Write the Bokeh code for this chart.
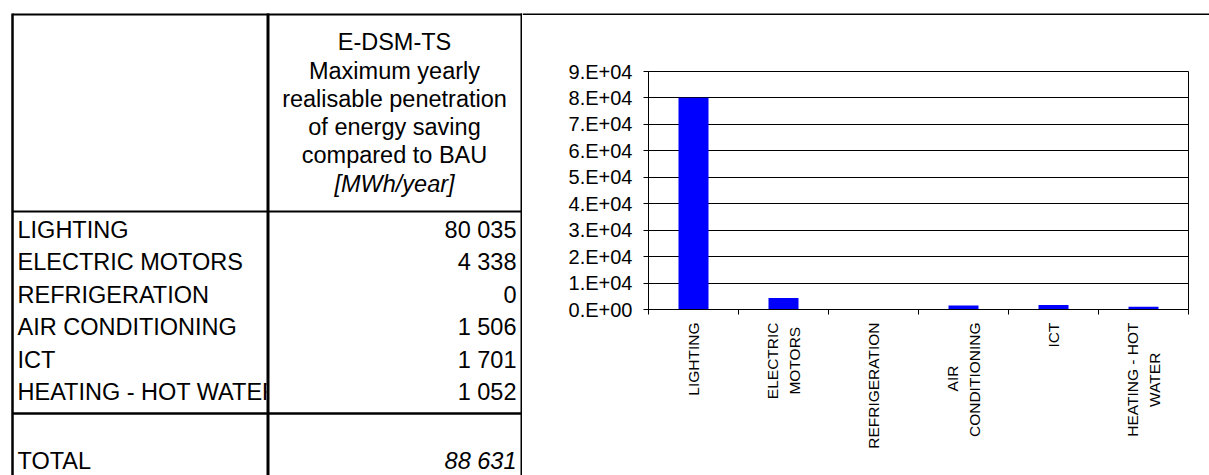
import numpy as np
from bokeh.plotting import figure
from bokeh.layouts import row, column
from bokeh.models import Range1d, FixedTicker, CustomJSTickFormatter
from bokeh.core.properties import value
from bokeh.embed import file_html
from bokeh.resources import INLINE

# ---------------- data ----------------
categories = ["LIGHTING", "ELECTRIC MOTORS", "REFRIGERATION",
              "AIR CONDITIONING", "ICT", "HEATING - HOT WATER"]
axis_labels = ["LIGHTING", "ELECTRIC\nMOTORS", "REFRIGERATION",
               "AIR\nCONDITIONING", "ICT", "HEATING - HOT\nWATER"]
savings = [80035, 4338, 0, 1506, 1701, 1052]
total_label = "TOTAL"
total_value = 88631
header_lines = ["E-DSM-TS", "Maximum yearly", "realisable penetration",
                "of energy saving", "compared to BAU"]
unit_line = "[MWh/year]"
y_ticks = [0, 10000, 20000, 30000, 40000, 50000, 60000, 70000, 80000, 90000]

FONT = value("Liberation Sans")
TFS = "23.5px"
XFS = "15.5px"
W_TAB, W_CH, H_ALL, H_STRIP = 522, 687, 475, 15


def fmt(v):
    return f"{v:,}".replace(",", " ")


def blank(fig):
    fig.grid.visible = False
    fig.outline_line_color = None
    fig.background_fill_color = "white"
    fig.border_fill_color = "white"


# ---------------- table ----------------
t = figure(width=W_TAB, height=H_ALL, x_range=Range1d(0, W_TAB),
           y_range=Range1d(H_ALL, 0), output_backend="svg",
           toolbar_location=None, min_border=0,
           x_axis_location=None, y_axis_location=None, frame_align=False)
blank(t)

head_y = [41.7 + 28.3 * i for i in range(len(header_lines) + 1)]
t.text(x=[394] * len(header_lines), y=head_y[:-1], text=header_lines,
       text_font=FONT, text_font_size=TFS, text_align="center",
       text_baseline="middle", text_color="black")
t.text(x=[394], y=[head_y[-1]], text=[unit_line], text_font=FONT,
       text_font_size=TFS, text_font_style="italic", text_align="center",
       text_baseline="middle", text_color="black")

row_y = [229 + 32.5 * i for i in range(len(categories))]
t.text(x=[17] * len(categories), y=row_y, text=categories, text_font=FONT,
       text_font_size=TFS, text_align="left", text_baseline="middle",
       text_color="black")
t.text(x=[516] * len(savings), y=row_y, text=[fmt(v) for v in savings],
       text_font=FONT, text_font_size=TFS, text_align="right",
       text_baseline="middle", text_color="black")
# clip the overflowing label at the column divider
t.quad(left=[266], right=[330], top=[row_y[-1] - 15], bottom=[row_y[-1] + 15],
       fill_color="white", line_color=None)

t.text(x=[17], y=[460], text=[total_label], text_font=FONT, text_font_size=TFS,
       text_align="left", text_baseline="middle", text_color="black")
t.text(x=[516], y=[460], text=[fmt(total_value)], text_font=FONT,
       text_font_size=TFS, text_font_style="italic", text_align="right",
       text_baseline="middle", text_color="black")

# table rules
t.segment(x0=[12, 12, 267.5, 521, 12, 12],
          y0=[14, 13, 13, 13, 211, 413],
          x1=[522, 12, 267.5, 521, 522, 522],
          y1=[14, 475, 475, 475, 211, 413],
          line_width=[2, 2.5, 3, 2, 2, 2.5], line_color="black")

# ---------------- strip above the chart (continues the top rule) ----------------
s = figure(width=W_CH, height=H_STRIP, x_range=Range1d(0, W_CH),
           y_range=Range1d(H_STRIP, 0), output_backend="svg",
           toolbar_location=None, min_border=0,
           x_axis_location=None, y_axis_location=None, frame_align=False)
blank(s)
s.segment(x0=[0], y0=[14], x1=[W_CH], y1=[14], line_width=2, line_color="black")

# ---------------- chart ----------------
p = figure(width=W_CH, height=H_ALL - H_STRIP, x_range=Range1d(0, len(categories)),
           y_range=Range1d(0, 90000), output_backend="svg", toolbar_location=None,
           min_border_left=126, min_border_right=21, min_border_top=56,
           min_border_bottom=166, frame_align=False)
p.background_fill_color = "white"
p.border_fill_color = "white"
p.outline_line_color = "black"
p.outline_line_width = 1

xs = np.arange(len(savings)) + 0.5
p.vbar(x=xs, top=savings, width=1 / 3, fill_color="#0000FF", line_color=None)

p.xgrid.visible = False
p.ygrid.ticker = FixedTicker(ticks=y_ticks)
p.ygrid.grid_line_color = "black"
p.ygrid.grid_line_width = 1

ya = p.yaxis[0]
ya.ticker = FixedTicker(ticks=y_ticks)
ya.formatter = CustomJSTickFormatter(code="""
    if (tick == 0) { return "0.E+00"; }
    const e = Math.floor(Math.log10(Math.abs(tick)) + 1e-9);
    const m = Math.round(tick / Math.pow(10, e));
    return m + ".E+" + (e < 10 ? "0" + e : "" + e);
""")
ya.major_tick_in = 0
ya.major_tick_out = 5
ya.minor_tick_in = 0
ya.minor_tick_out = 0
ya.major_label_standoff = 11
ya.major_label_text_font = "Liberation Sans"
ya.major_label_text_font_size = "20px"
ya.major_label_text_color = "black"
ya.axis_line_color = "black"
ya.major_tick_line_color = "black"

xa = p.xaxis[0]
xa.ticker = FixedTicker(ticks=list(xs), minor_ticks=list(range(len(categories) + 1)))
# lines of a wrapped label are centred on each other (as in the original)
xa.formatter = CustomJSTickFormatter(args=dict(labels=axis_labels, font=XFS + " 'Liberation Sans'"),
                                     code="""
    const txt = labels[Math.floor(tick)];
    const lines = txt.split("\\n");
    if (lines.length < 2) { return txt; }
    const ctx = document.createElement("canvas").getContext("2d");
    ctx.font = font;
    const w = lines.map((l) => ctx.measureText(l).width);
    const mx = Math.max(...w);
    const nb = ctx.measureText("\\u00a0").width || 4;
    return lines.map((l, k) => l + "\\u00a0".repeat(Math.max(0, Math.round((mx - w[k]) / 2 / nb)))).join("\\n");
""")
xa.major_tick_in = 0
xa.major_tick_out = 0
xa.minor_tick_in = 0
xa.minor_tick_out = 5
xa.minor_tick_line_color = "black"
xa.major_label_orientation = np.pi / 2
xa.major_label_standoff = 8
xa.major_label_text_font = "Liberation Sans"
xa.major_label_text_font_size = XFS
xa.major_label_text_line_height = 1.25
xa.major_label_text_color = "black"
xa.axis_line_color = "black"

layout = row(t, column(s, p))
open("out.html", "w").write(file_html(layout, INLINE))
